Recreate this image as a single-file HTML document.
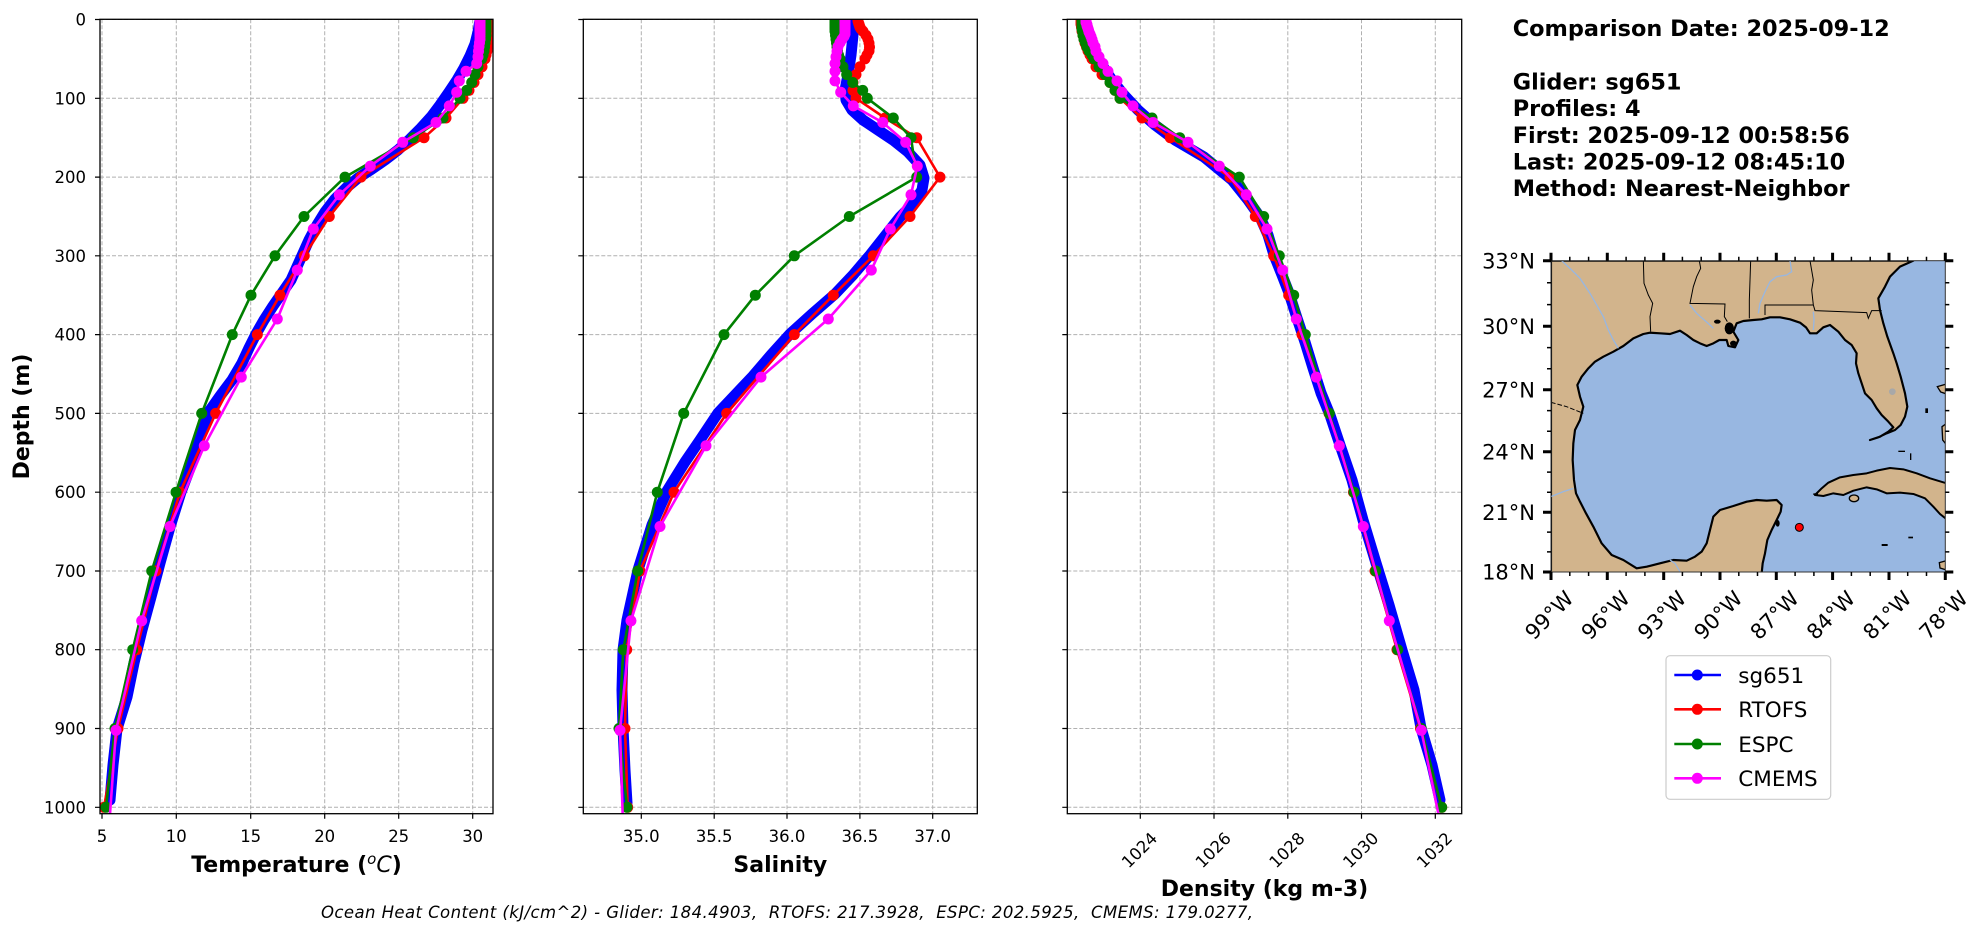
<!DOCTYPE html>
<html><head><meta charset="utf-8"><style>
html,body{margin:0;padding:0;background:#fff;}
svg{display:block;font-family:"DejaVu Sans","Liberation Sans",sans-serif;}
</style></head><body>
<svg width="1987" height="934" viewBox="0 0 1987 934" xmlns="http://www.w3.org/2000/svg">
<defs>
<clipPath id="c1"><rect x="100" y="19.3" width="393" height="794.4"/></clipPath>
<clipPath id="c2"><rect x="583.3" y="19.3" width="394" height="794.4"/></clipPath>
<clipPath id="c3"><rect x="1067.3" y="19.3" width="394.4" height="794.4"/></clipPath>
<clipPath id="cm"><rect x="213" y="62" width="1183" height="934"/></clipPath>
<marker id="mr" markerUnits="userSpaceOnUse" markerWidth="12" markerHeight="12" refX="6" refY="6" viewBox="0 0 12 12"><circle cx="6" cy="6" r="5.5" fill="#ff0000"/></marker>
<marker id="mg" markerUnits="userSpaceOnUse" markerWidth="12" markerHeight="12" refX="6" refY="6" viewBox="0 0 12 12"><circle cx="6" cy="6" r="5.5" fill="#008000"/></marker>
<marker id="mm" markerUnits="userSpaceOnUse" markerWidth="12" markerHeight="12" refX="6" refY="6" viewBox="0 0 12 12"><circle cx="6" cy="6" r="5.5" fill="#ff00ff"/></marker>
</defs>
<rect width="1987" height="934" fill="#fff"/>

<!-- ===== GRIDS ===== -->
<g stroke="#b0b0b0" stroke-width="1" stroke-dasharray="4,2" fill="none">
<path d="M102,19.3V813.7M176.3,19.3V813.7M250.7,19.3V813.7M324.7,19.3V813.7M398.7,19.3V813.7M472.7,19.3V813.7"/>
<path d="M100,19.5H493M100,98.3H493M100,177.1H493M100,255.8H493M100,334.6H493M100,413.4H493M100,492.2H493M100,571H493M100,649.7H493M100,728.5H493M100,807.3H493"/>
<path d="M641.3,19.3V813.7M714.2,19.3V813.7M787,19.3V813.7M859.9,19.3V813.7M932.7,19.3V813.7"/>
<path d="M583.3,19.5H977.3M583.3,98.3H977.3M583.3,177.1H977.3M583.3,255.8H977.3M583.3,334.6H977.3M583.3,413.4H977.3M583.3,492.2H977.3M583.3,571H977.3M583.3,649.7H977.3M583.3,728.5H977.3M583.3,807.3H977.3"/>
<path d="M1140.3,19.3V813.7M1214,19.3V813.7M1287.8,19.3V813.7M1361.5,19.3V813.7M1435.3,19.3V813.7"/>
<path d="M1067.3,19.5H1461.7M1067.3,98.3H1461.7M1067.3,177.1H1461.7M1067.3,255.8H1461.7M1067.3,334.6H1461.7M1067.3,413.4H1461.7M1067.3,492.2H1461.7M1067.3,571H1461.7M1067.3,649.7H1461.7M1067.3,728.5H1461.7M1067.3,807.3H1461.7"/>
</g>

<!-- ===== PANEL 1 : TEMPERATURE ===== -->
<g clip-path="url(#c1)" fill="none" stroke-linejoin="round" stroke-linecap="round">
<polyline stroke="#0000ff" stroke-width="11" points="480,20 478,32 475,44 470,56 464,68 457,80 449,92 440,105 431,117 421,128 410,139 398,150 385,160 372,169 358,178 346,188 335,199 325,212 317,225 309,240 300,260 291,280 282,293 273,306 264,320 256,334 249,348 242,363 232,380 220,396 208,413 200,438 192,463 181,492 170,527 160,563 151,597 142,630 134,663 127,697 122,713 117,729 113,765 110,800"/>
<polyline stroke="#ff0000" stroke-width="2.6" marker-start="url(#mr)" marker-mid="url(#mr)" marker-end="url(#mr)" points="488,19.5 488,21.1 488,22.7 488,24.2 488,25.8 488,27.4 488,29 488,31.3 488,35.3 488,39.2 488,43.1 487.5,47.1 487,51 486,55 485,58.9 482,66.8 478,74.6 474,82.5 469,90.4 463,98.3 446,118 424,137.7 361,177.1 329.3,216.5 304.3,255.8 280,295.2 257.3,334.6 215.7,413.4 180,492.2 156,571 136.7,649.7 118,728.5 104,807.3"/>
<polyline stroke="#008000" stroke-width="2.6" marker-start="url(#mg)" marker-mid="url(#mg)" marker-end="url(#mg)" points="486,19.5 486,21.1 486,22.7 486,24.2 486,25.8 486,27.4 486,29 486,31.3 486,35.3 485.5,39.2 485,43.1 484.5,47.1 484,51 483,55 481.7,58.9 478,66.8 475,74.6 471.7,82.5 466.7,90.4 460,98.3 443,118 413.3,137.7 345,177.1 304,216.5 275,255.8 251,295.2 232.3,334.6 201.7,413.4 176,492.2 151.7,571 132.7,649.7 115,728.5 106,807.3"/>
<polyline stroke="#ff00ff" stroke-width="2.6" marker-start="url(#mm)" marker-mid="url(#mm)" marker-end="url(#mm)" points="480,19.9 480,20.7 480,21.6 480,22.5 480,23.5 480,24.6 480,25.7 480,27 480,28.5 480,30.1 480,32 480,34.1 480,36.5 480,39.4 479.5,42.7 479,46.6 478.5,51.2 478,56.8 476.7,63.5 466,71.3 459.3,80.9 456.7,92.2 449.3,105.9 436,122.5 402.7,142.3 370.3,166.1 339.3,194.8 313.3,229 297.3,270.1 277.3,319 241.3,377.1 204.3,445.8 170,526.5 141.7,620.8 116,730.3 107,856"/>
</g>

<!-- ===== PANEL 2 : SALINITY ===== -->
<g clip-path="url(#c2)" fill="none" stroke-linejoin="round" stroke-linecap="round">
<polyline stroke="#0000ff" stroke-width="11" points="853,20 853,35 851,55 848,75 845,90 846,100 852,110 863,120 878,130 893,140 908,152 920,165 924,178 922,190 912,205 900,217 885,236 870,255 853,275 835,294 812,314 790,334 771,355 753,376 735,395 718,413 700,440 685,462 667,491 652,525 638,570 627,620 623,650 622,690 623,728 625,770 627,803"/>
<polyline stroke="#ff0000" stroke-width="2.6" marker-start="url(#mr)" marker-mid="url(#mr)" marker-end="url(#mr)" points="858,19.5 858,21.1 858.5,22.7 859,24.2 859.5,25.8 860,27.4 861,29 863,31.3 866,35.3 868,39.2 869,43.1 869.5,47.1 869,51 867,55 865,58.9 860,66.8 856,74.6 853,82.5 853,90.4 856,98.3 885,118 916.7,137.7 940,177.1 910,216.5 873.3,255.8 833.3,295.2 794.3,334.6 726.7,413.4 674,492.2 640,571 626.7,649.7 625,728.5 627.7,807.3"/>
<polyline stroke="#008000" stroke-width="2.6" marker-start="url(#mg)" marker-mid="url(#mg)" marker-end="url(#mg)" points="835,19.5 835,21.1 835,22.7 835,24.2 835,25.8 835,27.4 835,29 835,31.3 835.5,35.3 836,39.2 836.5,43.1 837,47.1 837.5,51 838.5,55 840,58.9 843,66.8 846.7,74.6 852.7,82.5 862.7,90.4 867.3,98.3 893.3,118 911,137.7 916.7,177.1 849.3,216.5 794.3,255.8 755.3,295.2 724,334.6 683.7,413.4 657.3,492.2 637.7,571 623.3,649.7 619,728.5 627,807.3"/>
<polyline stroke="#ff00ff" stroke-width="2.6" marker-start="url(#mm)" marker-mid="url(#mm)" marker-end="url(#mm)" points="845,19.9 845,20.7 845,21.6 845,22.5 845,23.5 845,24.6 845,25.7 845,27 845,28.5 845,30.1 845,32 845,34.1 844,36.5 842,39.4 840,42.7 838,46.6 837,51.2 836,56.8 835,63.5 835,71.3 835,80.9 840.7,92.2 853.3,105.9 882.7,122.5 905.7,142.3 917.3,166.1 911,194.8 890.3,229 871.3,270.1 828.3,319 761,377.1 706,445.8 660,526.5 631,620.8 620,730.3 624,856"/>
</g>

<!-- ===== PANEL 3 : DENSITY ===== -->
<g clip-path="url(#c3)" fill="none" stroke-linejoin="round" stroke-linecap="round">
<polyline stroke="#0000ff" stroke-width="11" points="1083,20 1088,35 1094,50 1102,65 1112,80 1124,95 1138,110 1155,125 1175,140 1204,157 1232,180 1248,200 1260,217 1268,235 1274,255 1282,275 1289,293 1297,318 1305,342 1313,368 1321,393 1330,415 1340,445 1352,480 1363,520 1376,563 1389,605 1402,650 1414,690 1421,728 1432,765 1440,800"/>
<polyline stroke="#ff0000" stroke-width="2.6" marker-start="url(#mr)" marker-mid="url(#mr)" marker-end="url(#mr)" points="1081,19.5 1081,21.1 1081,22.7 1081,24.2 1081.5,25.8 1081.5,27.4 1082,29 1082,31.3 1083,35.3 1084,39.2 1085,43.1 1086.5,47.1 1088,51 1090,55 1092,58.9 1096,66.8 1102,74.6 1110,82.5 1115,90.4 1120,98.3 1142,118 1170.3,137.7 1230,177.1 1255.3,216.5 1273.7,255.8 1288.7,295.2 1302,334.6 1329,413.4 1353.5,492.2 1375,571 1397,649.7 1420.5,728.5 1441.7,807.3"/>
<polyline stroke="#008000" stroke-width="2.6" marker-start="url(#mg)" marker-mid="url(#mg)" marker-end="url(#mg)" points="1082,19.5 1082,21.1 1082,22.7 1082,24.2 1082,25.8 1082,27.4 1082,29 1082.5,31.3 1083,35.3 1084,39.2 1085.5,43.1 1087,47.1 1089,51 1092,55 1094,58.9 1099,66.8 1105,74.6 1110,82.5 1115,90.4 1120,98.3 1152,118 1179.7,137.7 1239.3,177.1 1263.7,216.5 1279.3,255.8 1293.7,295.2 1305.3,334.6 1329.3,413.4 1354,492.2 1375.7,571 1397.7,649.7 1421.3,728.5 1441.7,807.3"/>
<polyline stroke="#ff00ff" stroke-width="2.6" marker-start="url(#mm)" marker-mid="url(#mm)" marker-end="url(#mm)" points="1086,19.9 1086,20.7 1086,21.6 1086,22.5 1086.5,23.5 1087,24.6 1087,25.7 1087.5,27 1088,28.5 1088.5,30.1 1089,32 1090,34.1 1091,36.5 1092,39.4 1093,42.7 1095,46.6 1096,51.2 1099,56.8 1103,63.5 1108,71.3 1117,80.9 1122,92.2 1133,105.9 1153,122.5 1188,142.3 1219.3,166.1 1246.3,194.8 1267,229 1282.7,270.1 1296.3,319 1316.3,377.1 1339.3,445.8 1363.3,526.5 1389.3,620.8 1421.3,730.3 1447,856"/>
</g>

<!-- ===== SPINES & TICKS ===== -->
<g fill="none" stroke="#000">
<rect x="100" y="19.3" width="393" height="794.4" stroke-width="1.3"/>
<rect x="583.3" y="19.3" width="394" height="794.4" stroke-width="1.3"/>
<rect x="1067.3" y="19.3" width="394.4" height="794.4" stroke-width="1.3"/>
<path stroke-width="1.2" d="M95,19.5h5M95,98.3h5M95,177.1h5M95,255.8h5M95,334.6h5M95,413.4h5M95,492.2h5M95,571h5M95,649.7h5M95,728.5h5M95,807.3h5
M578.3,19.5h5M578.3,98.3h5M578.3,177.1h5M578.3,255.8h5M578.3,334.6h5M578.3,413.4h5M578.3,492.2h5M578.3,571h5M578.3,649.7h5M578.3,728.5h5M578.3,807.3h5
M1062.3,19.5h5M1062.3,98.3h5M1062.3,177.1h5M1062.3,255.8h5M1062.3,334.6h5M1062.3,413.4h5M1062.3,492.2h5M1062.3,571h5M1062.3,649.7h5M1062.3,728.5h5M1062.3,807.3h5
M102,813.7v5M176.3,813.7v5M250.7,813.7v5M324.7,813.7v5M398.7,813.7v5M472.7,813.7v5
M641.3,813.7v5M714.2,813.7v5M787,813.7v5M859.9,813.7v5M932.7,813.7v5
M1140.3,813.7v5M1214,813.7v5M1287.8,813.7v5M1361.5,813.7v5M1435.3,813.7v5"/>
</g>

<!-- ===== TICK LABELS ===== -->
<g font-size="16.5" fill="#000">
<g text-anchor="end">
<text x="86" y="25.5">0</text><text x="86" y="104.3">100</text><text x="86" y="183.1">200</text><text x="86" y="261.8">300</text><text x="86" y="340.6">400</text><text x="86" y="419.4">500</text><text x="86" y="498.2">600</text><text x="86" y="577">700</text><text x="86" y="655.7">800</text><text x="86" y="734.5">900</text><text x="86" y="813.3">1000</text>
</g>
<g text-anchor="middle">
<text x="102" y="842">5</text><text x="176.3" y="842">10</text><text x="250.7" y="842">15</text><text x="324.7" y="842">20</text><text x="398.7" y="842">25</text><text x="472.7" y="842">30</text>
<text x="641.3" y="842">35.0</text><text x="714.2" y="842">35.5</text><text x="787" y="842">36.0</text><text x="859.9" y="842">36.5</text><text x="932.7" y="842">37.0</text>
<text transform="translate(1139.3,850) rotate(-45)" dy="0.36em">1024</text>
<text transform="translate(1213,850) rotate(-45)" dy="0.36em">1026</text>
<text transform="translate(1286.8,850) rotate(-45)" dy="0.36em">1028</text>
<text transform="translate(1360.5,850) rotate(-45)" dy="0.36em">1030</text>
<text transform="translate(1434.3,850) rotate(-45)" dy="0.36em">1032</text>
</g>
</g>

<!-- ===== AXIS LABELS ===== -->
<g font-size="22" font-weight="bold" fill="#000" text-anchor="middle">
<text x="296.5" y="872">Temperature (<tspan font-weight="normal" font-style="italic" font-size="15" dy="-8">o</tspan><tspan font-weight="normal" font-style="italic" dy="8">C</tspan>)</text>
<text x="780.3" y="872">Salinity</text>
<text x="1264.5" y="896">Density (kg m-3)</text>
<text transform="translate(29,416.5) rotate(-90)">Depth (m)</text>
</g>

<text x="321" y="918" font-size="16.5" font-style="italic" textLength="932" style="white-space:pre" fill="#000">Ocean Heat Content (kJ/cm^2) - Glider: 184.4903,  RTOFS: 217.3928,  ESPC: 202.5925,  CMEMS: 179.0277,</text>

<!-- ===== INFO TEXT ===== -->
<g font-size="22.4" font-weight="bold" fill="#000">
<text x="1512.7" y="36">Comparison Date: 2025-09-12</text>
<text x="1512.7" y="89.4">Glider: sg651</text>
<text x="1512.7" y="116.1">Profiles: 4</text>
<text x="1512.7" y="142.8">First: 2025-09-12 00:58:56</text>
<text x="1512.7" y="169.5">Last: 2025-09-12 08:45:10</text>
<text x="1512.7" y="196.2">Method: Nearest-Neighbor</text>
</g>

<!-- ===== MAP ===== -->
<g transform="translate(1480,240) scale(0.333333)">
<g clip-path="url(#cm)">
<rect x="213" y="62" width="1183" height="934" fill="#98b7e1"/>
<path fill="#d2b48c" stroke="#000" stroke-width="6.5" stroke-linejoin="round" d="M213,62 L1300,62 L1260,80 L1230,110 L1215,140 L1195,175 L1200,210 L1210,250 L1222,290 L1240,340 L1250,370 L1262,410 L1275,460 L1282,500 L1275,530 L1262,555 L1245,570 L1220,580 L1195,592 L1170,600 L1200,590 L1225,575 L1240,562 L1225,545 L1205,525 L1190,505 L1175,480 L1155,460 L1145,430 L1135,400 L1128,370 L1130,340 L1115,315 L1095,300 L1075,275 L1050,255 L1030,262 L1010,280 L990,280 L978,262 L960,248 L930,238 L900,232 L870,232 L845,238 L820,240 L790,243 L770,250 L760,275 L775,300 L765,322 L745,318 L740,300 L718,300 L700,310 L680,318 L660,310 L640,300 L620,285 L600,272 L570,282 L540,280 L510,278 L490,282 L460,295 L430,318 L400,335 L370,350 L345,365 L325,385 L305,410 L292,435 L300,470 L310,500 L300,540 L285,570 L280,610 L278,660 L282,720 L288,760 L300,785 L318,820 L340,860 L365,910 L395,945 L430,960 L470,985 L500,980 L540,970 L580,960 L620,962 L645,950 L665,935 L680,910 L690,870 L700,830 L720,810 L760,798 L800,785 L830,780 L860,782 L890,780 L905,795 L902,815 L890,840 L875,870 L862,900 L855,940 L848,970 L845,1000 L213,1000 Z"/>
<path fill="#d2b48c" stroke="#000" stroke-width="6" stroke-linejoin="round" d="M1005,765 L1025,745 L1045,728 L1080,712 L1120,705 L1160,700 L1190,692 L1230,684 L1270,688 L1310,700 L1350,715 L1400,730 L1400,838 L1380,822 L1360,800 L1335,775 L1300,762 L1260,758 L1220,760 L1190,748 L1160,742 L1120,752 L1090,765 L1060,760 L1030,768 Z"/>
<ellipse cx="1122" cy="775" rx="14" ry="10" fill="#d2b48c" stroke="#000" stroke-width="4"/>
<path fill="#d2b48c" stroke="#000" stroke-width="4" d="M1372,440 L1400,432 L1400,462 L1382,456 Z M1386,560 L1400,550 L1400,615 L1388,600 Z M1378,968 L1400,962 L1400,990 L1380,984 Z"/>
<g fill="#000">
<rect x="1336" y="505" width="8" height="14"/><rect x="1205" y="912" width="18" height="6"/><rect x="1285" y="890" width="14" height="5"/><ellipse cx="893" cy="850" rx="6" ry="10"/><rect x="1255" y="632" width="20" height="4"/><rect x="1290" y="640" width="4" height="20"/><rect x="1000" y="760" width="14" height="5"/>
<ellipse cx="748" cy="265" rx="14" ry="18"/><ellipse cx="760" cy="310" rx="10" ry="8"/><ellipse cx="712" cy="245" rx="10" ry="6"/>
</g>
<circle cx="1237" cy="455" r="10" fill="#a8a8a8"/>
<g fill="none" stroke="#000" stroke-width="3">
<path d="M490,62 L492,130 L505,165 L518,190 L510,230 L512,275"/>
<path d="M658,62 L662,85 L650,110 L640,140 L630,190 L735,192 L733,230 L742,245"/>
<path d="M812,62 L808,180 L808,235"/>
<path d="M990,62 L1000,120 L995,150 L1000,195 L855,195 L855,225 M1000,195 L1005,212 L1160,218 L1165,235 L1175,212 L1205,212"/>
<path d="M213,487 L260,500 L310,520" stroke-dasharray="14,6"/>
</g>
<g fill="none" stroke="#98b7e1" stroke-width="4">
<path d="M245,62 L275,90 L300,115 L330,160 L370,230 L385,270 L400,300 L415,325"/>
<path d="M930,62 L935,95 L920,105 L890,110 L870,125 L855,155 L840,190 L835,220"/>
<path d="M630,195 L650,220 L690,255 L700,265"/>
<path d="M213,770 L250,755 L280,745"/>
<path d="M1000,215 L1002,240 L1000,270"/>
<path d="M570,960 L585,970 L600,995"/>
</g>
<circle cx="958" cy="862" r="12" fill="#ff0000" stroke="#000" stroke-width="3"/>
</g>
</g>
<rect x="1551" y="260.7" width="394.3" height="311.3" fill="none" stroke="#333" stroke-width="1"/>
<g stroke="#000" stroke-width="3" fill="none">
<path d="M1551,260.7v-8M1607.3,260.7v-8M1663.7,260.7v-8M1720,260.7v-8M1776.3,260.7v-8M1832.6,260.7v-8M1889,260.7v-8M1945.3,260.7v-8
M1551,572v8M1607.3,572v8M1663.7,572v8M1720,572v8M1776.3,572v8M1832.6,572v8M1889,572v8M1945.3,572v8
M1551,260.7h-8M1551,326.2h-8M1551,389.8h-8M1551,451.8h-8M1551,512.2h-8M1551,572h-8
M1945.3,260.7h8M1945.3,326.2h8M1945.3,389.8h8M1945.3,451.8h8M1945.3,512.2h8M1945.3,572h8"/>
</g>
<g stroke="#000" stroke-width="1.5" fill="none">
<path d="M1569.8,260.7v-4M1588.6,260.7v-4M1626.1,260.7v-4M1644.9,260.7v-4M1682.4,260.7v-4M1701.2,260.7v-4M1738.8,260.7v-4M1757.5,260.7v-4M1795.1,260.7v-4M1813.9,260.7v-4M1851.4,260.7v-4M1870.2,260.7v-4M1907.7,260.7v-4M1926.5,260.7v-4
M1569.8,572v4M1588.6,572v4M1626.1,572v4M1644.9,572v4M1682.4,572v4M1701.2,572v4M1738.8,572v4M1757.5,572v4M1795.1,572v4M1813.9,572v4M1851.4,572v4M1870.2,572v4M1907.7,572v4M1926.5,572v4
M1551,282.8h-4M1551,304.6h-4M1551,347.6h-4M1551,368.8h-4M1551,410.6h-4M1551,431.3h-4M1551,472.1h-4M1551,492.2h-4M1551,532.1h-4M1551,551.9h-4
M1945.3,282.8h4M1945.3,304.6h4M1945.3,347.6h4M1945.3,368.8h4M1945.3,410.6h4M1945.3,431.3h4M1945.3,472.1h4M1945.3,492.2h4M1945.3,532.1h4M1945.3,551.9h4"/>
</g>
<g font-size="21" fill="#000">
<g text-anchor="end">
<text x="1535" y="268.4">33°N</text><text x="1535" y="333.9">30°N</text><text x="1535" y="397.5">27°N</text><text x="1535" y="459.5">24°N</text><text x="1535" y="519.9">21°N</text><text x="1535" y="579.7">18°N</text>
</g>
<g text-anchor="middle">
<text transform="translate(1549,615) rotate(-45)" dy="0.36em">99°W</text>
<text transform="translate(1605.3,615) rotate(-45)" dy="0.36em">96°W</text>
<text transform="translate(1661.7,615) rotate(-45)" dy="0.36em">93°W</text>
<text transform="translate(1718,615) rotate(-45)" dy="0.36em">90°W</text>
<text transform="translate(1774.3,615) rotate(-45)" dy="0.36em">87°W</text>
<text transform="translate(1830.6,615) rotate(-45)" dy="0.36em">84°W</text>
<text transform="translate(1887,615) rotate(-45)" dy="0.36em">81°W</text>
<text transform="translate(1943.3,615) rotate(-45)" dy="0.36em">78°W</text>
</g>
</g>

<!-- ===== LEGEND ===== -->
<rect x="1666" y="655.7" width="164.7" height="143.6" rx="4" ry="4" fill="#fff" stroke="#cccccc" stroke-width="1.2"/>
<g stroke-width="2.6">
<line x1="1674.3" y1="675" x2="1721" y2="675" stroke="#0000ff"/><circle cx="1697.3" cy="675" r="5.5" fill="#0000ff"/>
<line x1="1674.3" y1="709.3" x2="1721" y2="709.3" stroke="#ff0000"/><circle cx="1697.3" cy="709.3" r="5.5" fill="#ff0000"/>
<line x1="1674.3" y1="744" x2="1721" y2="744" stroke="#008000"/><circle cx="1697.3" cy="744" r="5.5" fill="#008000"/>
<line x1="1674.3" y1="778.3" x2="1721" y2="778.3" stroke="#ff00ff"/><circle cx="1697.3" cy="778.3" r="5.5" fill="#ff00ff"/>
</g>
<g font-size="21.5" fill="#000">
<text x="1738.3" y="682.8">sg651</text>
<text x="1738.3" y="717.1">RTOFS</text>
<text x="1738.3" y="751.8">ESPC</text>
<text x="1738.3" y="786.1">CMEMS</text>
</g>
</svg>
</body></html>
